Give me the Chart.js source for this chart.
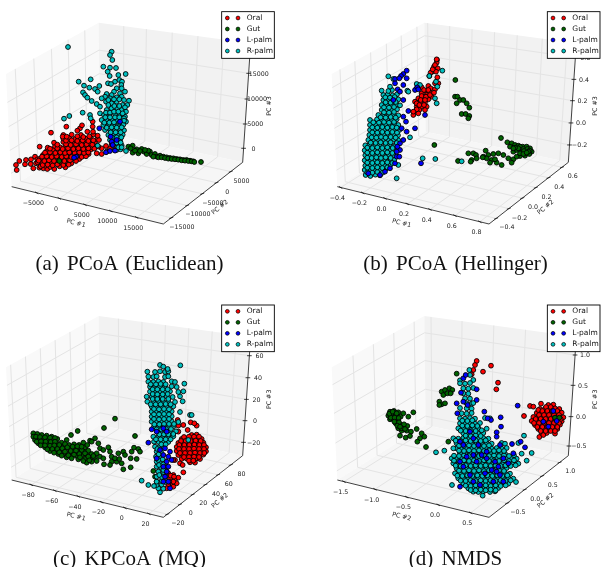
<!DOCTYPE html>
<html>
  <head>
    <meta charset='utf-8'>
    <title>Ordination scatter panels</title>
    <style>
      html, body { margin: 0; padding: 0; background: #fff; overflow: hidden; }
      #page { position: relative; width: 601px; height: 567px; }
      #page canvas { position: absolute; filter: blur(0.35px); }
      .caption {
        position: absolute;
        font-family: 'Liberation Serif', serif;
        font-size: 21px;
        color: #111;
        word-spacing: 3px;
        white-space: nowrap;
        transform: translate(-50%, -50%);
      }
    </style>
    <script src='https://cdn.jsdelivr.net/npm/chart.js@4/dist/chart.umd.min.js'></script>
  </head>
  <body>
    <div id='page'>
      <canvas id='panelA'></canvas>
      <canvas id='panelB'></canvas>
      <canvas id='panelC'></canvas>
      <canvas id='panelD'></canvas>
      <div class='caption' style='left:129.5px;top:263px'>(a) PCoA (Euclidean)</div>
      <div class='caption' style='left:455.5px;top:263px'>(b) PCoA (Hellinger)</div>
      <div class='caption' style='left:129.5px;top:558px'>(c) KPCoA (MQ)</div>
      <div class='caption' style='left:455.5px;top:558px'>(d) NMDS</div>
    </div>

    <script>
    var seriesNames = ['Oral', 'Gut', 'L-palm', 'R-palm'];
    var seriesColors = ['#ff0000', '#006400', '#0000ff', '#00bfbf'];

    var oralA = [50,510,48,495,58,483,78,480,75,493,93,478,92,492,105,470,119,440,112,478,108,490,118,503,130,505,142,507,100,505,
      122,499,136,497,151,501,163,507,179,499,196,502,113,487,127,489,141,486,154,490,171,487,186,489,201,486,214,490,
      120,476,134,474,149,478,162,475,179,477,193,473,206,478,223,475,238,477,129,465,146,462,160,466,176,463,189,466,206,462,219,465,236,463,250,467,266,462,
      141,452,158,449,172,454,187,450,201,453,214,449,231,453,245,450,258,454,272,449,143,443,165,439,180,442,196,438,212,441,228,438,242,442,258,437,275,441,290,438,
      162,428,190,426,205,430,220,426,238,429,252,425,268,429,285,426,190,416,208,414,225,417,240,413,258,416,272,413,292,417,
      190,405,215,404,243,405,262,395,280,403,297,420,153,398,199,380,240,385,246,376,278,365,278,380,232,392,188,410,293,407,279,395,
      290,460,305,462,320,455,330,445,318,438,335,432,345,450,305,445,295,440,
      128,495,143,494,158,496,172,493,190,495,206,494,116,482,133,483,147,481,162,483,177,481,193,483,210,481,228,483,
      126,470,140,469,155,471,170,469,185,471,199,469,214,471,230,469,245,471,258,469,135,458,150,457,166,459,181,457,195,459,208,457,224,459,238,457,252,459,265,457,
      150,446,172,445,188,447,204,445,220,447,235,445,250,447,265,445,283,446,172,434,198,433,212,435,228,433,245,435,260,433,277,434,198,422,215,421,232,423,248,421,265,423,280,421,200,410,232,409,250,411,268,409];
    var gutA = [178,483,385,440,398,437,410,448,398,458,415,460,425,447,432,455,440,462,450,455,455,465,465,462,470,470,480,467,490,470,500,472,510,474,520,475,530,477,540,478,550,480,560,480,570,482,580,484,603,486,445,452,405,452,420,453,435,450,392,445,460,470,475,472,485,472,495,474,505,476,515,477,525,478,535,479,545,481,555,482,565,483,575,484,583,486];
    var lpalmA = [298,385,228,470,222,473,332,410,335,425,318,457,330,453,345,452,338,435,360,365,350,420];
    var rpalmA = [204,141,335,155,330,165,337,180,310,200,330,203,348,204,323,215,377,222,329,228,355,225,236,245,272,238,345,245,358,240,366,245,324,250,252,257,364,255,333,252,298,258,285,267,249,277,268,263,293,275,350,265,365,265,255,285,262,293,275,303,342,275,320,282,335,285,360,280,375,275,315,290,330,295,350,292,365,290,387,302,305,295,290,312,300,320,318,305,335,310,350,305,368,315,382,315,320,330,335,325,352,325,365,330,378,335,248,338,270,345,208,348,192,356,300,340,312,345,328,345,345,342,360,345,375,350,272,355,305,360,320,360,335,358,350,360,365,360,378,365,
      310,375,325,377,340,374,355,376,370,374,315,390,330,388,345,391,360,389,372,391,325,405,340,403,355,406,368,404,330,420,345,418,360,421,340,435,355,433,365,436,350,450,362,448,378,453,293,437,
      318,338,330,338,342,335,355,335,368,340,316,352,330,352,345,352,358,352,372,355,313,368,328,368,342,367,358,368,372,362,320,383,335,382,350,383,365,382,332,397,347,397,362,397,336,412,350,412,364,412,350,428,362,428,355,442,365,442,325,300,342,298,358,298,372,300,325,315,343,318,358,318,375,322];

    var oralB = [411,180,410,188,402,200,413,205,397,215,408,215,392,218,412,232,388,228,415,250,405,250,350,265,365,262,385,258,392,265,378,272,390,278,365,280,380,285,405,268,395,290,355,295,370,295,385,298,345,305,360,308,375,308,350,320,365,320,380,320,345,335,358,330,340,345,375,330,355,340,
      372,270,385,270,365,288,378,290,390,285,350,310,362,300,375,300,358,315,372,315,350,328,340,335,402,278,398,208,405,195,410,178];
    var gutB = [466,240,465,290,472,290,480,300,470,310,490,300,500,310,508,323,485,342,497,342,508,348,505,355,403,435,474,483,505,460,520,460,557,452,528,465,530,475,515,480,512,485,550,470,565,465,580,462,595,460,610,465,625,475,640,478,635,488,605,495,590,488,575,480,560,475,548,472,570,488,585,478,603,414,622,427,635,430,645,435,655,437,668,440,680,440,690,445,695,455,688,462,675,467,660,468,650,470,640,455,630,440,650,450,665,452,678,452,660,440,
      670,447,682,447,665,458,677,459,689,452,655,445,645,443,685,455,672,453,660,460,640,445,670,462,680,458];
    var lpalmB = [320,212,310,222,303,228,285,237,298,235,320,235,285,250,310,255,293,268,300,275,345,270,352,262,310,300,325,333,310,350,318,365,345,385,320,395,310,420,300,450,290,470,285,490,270,505,255,515,240,525,205,520,363,490,375,345,355,268,280,300,305,385,300,430,292,440,298,470,290,455];
    var rpalmB = [197,525,211,528,226,524,240,526,194,510,209,513,224,509,241,512,256,508,196,497,210,494,225,498,240,494,254,497,271,495,194,481,209,484,226,480,239,483,256,479,271,482,283,479,196,466,208,463,223,467,236,463,251,466,265,463,280,466,194,451,211,449,224,452,241,449,255,451,271,449,285,452,196,436,209,433,226,437,239,434,256,436,270,433,286,436,205,420,221,418,235,421,251,418,265,421,281,418,295,421,
      208,405,223,403,236,406,251,403,265,406,280,403,294,406,210,390,225,388,241,391,255,388,271,391,285,388,298,390,210,375,226,373,240,376,256,373,270,376,285,373,295,375,210,360,231,358,245,361,261,358,275,361,290,358,235,345,251,343,265,346,281,343,295,346,245,330,261,328,275,331,291,328,245,315,260,313,276,316,290,313,300,316,250,300,266,298,280,301,295,298,250,285,263,283,278,286,291,283,245,272,276,270,265,273,
      265,229,350,252,322,272,325,275,360,255,427,212,388,228,408,245,412,260,405,295,410,310,330,412,290,535,295,495,368,475,406,477,485,484,280,237,270,260,
      202,517,217,518,232,516,248,518,202,503,217,504,232,502,247,504,262,502,202,488,217,489,232,487,247,489,262,487,277,489,202,473,215,474,229,472,243,474,257,472,272,474,202,458,217,459,232,457,247,459,262,457,277,459,
      202,443,217,444,232,442,247,444,262,442,278,444,212,428,227,429,242,427,257,429,272,427,290,429,215,412,229,413,243,411,257,413,272,411,287,413,217,397,232,398,247,396,262,398,277,396,291,398,
      217,382,232,383,247,381,262,383,277,381,290,383,220,367,237,368,252,366,267,368,282,366,242,352,257,353,272,351,287,353,252,337,267,338,282,336,252,322,267,323,282,321,257,307,272,308,287,306,256,292,270,293,284,291];

    var oralC = [575,450,590,449,545,462,560,461,575,463,590,460,605,462,535,474,550,473,565,475,580,472,595,474,610,473,530,486,545,485,560,487,575,484,590,486,605,485,618,487,530,498,545,497,560,499,575,496,590,498,605,497,618,499,535,510,550,509,565,511,580,508,595,510,610,509,545,522,560,521,575,523,590,520,600,522,570,532,585,533,525,525,540,535,548,540,520,525,
      505,565,520,570,510,580,525,585,535,578,550,562,515,595,530,595,505,600,500,610,520,605,533,405,572,412,590,422,535,422,550,420,535,440,563,435,583,415,
      552,456,567,455,582,455,597,455,543,468,557,468,572,468,587,467,602,468,538,480,553,480,568,480,583,479,598,480,612,480,537,492,552,492,567,492,582,491,597,492,612,492,540,504,555,504,570,504,585,503,600,504,613,504,552,516,567,516,582,515,597,516,567,527,580,527,512,572,520,590,508,590,522,575];
    var gutC = [100,445,100,455,112,447,125,450,140,452,155,455,105,465,118,462,130,462,145,465,160,465,172,462,115,475,128,475,142,477,155,477,170,475,185,473,200,465,213,450,233,438,135,487,148,488,163,487,178,485,192,483,207,480,222,478,237,480,150,498,165,497,180,497,195,493,210,492,225,490,240,490,255,487,175,507,190,507,205,505,220,503,235,502,250,500,265,497,200,517,215,515,230,513,245,512,260,510,275,507,290,505,235,523,255,522,270,520,285,518,300,515,260,533,275,530,290,528,250,473,270,467,285,460,275,470,295,475,300,490,325,487,310,495,330,500,345,401,312,429,405,453,335,515,355,505,370,500,375,510,395,500,402,488,415,492,420,500,392,520,410,522,335,530,350,530,365,535,312,538,330,540,370,553,392,547,310,520,345,520,358,522,465,575,470,590,460,558,
      108,455,120,456,135,457,150,458,165,459,110,470,123,469,137,470,152,471,165,470,122,481,135,481,150,482,163,481,178,480,195,477,142,493,157,492,172,492,187,490,202,487,218,485,232,484,162,503,178,502,195,500,212,498,228,497,245,495,185,512,205,511,222,509,238,507,255,505,215,520,240,517,265,515,280,513,250,528,268,526,245,485,262,480];
    var lpalmC = [445,473,455,433,470,440,490,430,500,440,480,495,495,490,510,500,505,515,490,510,470,520,515,525,500,530,490,545,505,545,500,560,495,575,490,590,505,590,510,610];
    var rpalmC = [480,622,475,610,490,611,470,600,485,599,470,590,485,588,497,591,470,575,485,576,497,574,475,560,490,561,500,559,470,545,482,546,497,544,470,530,482,531,495,529,468,515,480,516,470,500,483,501,465,485,478,486,490,484,462,470,476,471,490,469,505,471,460,455,475,456,490,454,505,456,520,454,472,440,485,441,498,439,512,441,528,439,462,425,477,426,492,424,507,426,520,424,455,410,470,411,485,409,500,411,515,409,535,411,455,395,470,396,485,394,500,396,515,394,455,380,470,381,485,379,500,381,515,379,540,381,455,365,470,366,485,364,500,366,520,364,442,350,460,351,475,349,490,351,505,349,525,351,548,349,440,335,455,336,470,334,485,336,500,334,518,336,540,334,450,320,465,321,480,319,495,321,510,319,535,321,550,319,450,305,465,306,480,304,495,306,515,304,530,306,553,296,445,290,460,291,475,289,490,291,515,289,525,291,445,275,460,276,470,274,495,276,505,274,442,260,465,261,480,259,495,261,505,259,480,240,490,245,503,252,541,241,425,587,445,600,462,603,570,390,575,390,565,465,
      478,570,490,555,477,540,490,538,475,525,488,523,476,508,472,492,484,478,497,478,468,463,482,463,497,463,512,463,478,448,492,448,505,448,520,447,470,433,484,433,498,432,513,432,463,418,478,418,492,417,507,417,522,417,462,402,477,403,492,402,507,402,462,388,477,388,492,387,507,388,462,372,477,373,492,372,507,373,452,358,467,358,482,358,497,357,512,358,458,342,472,342,488,342,505,342,458,327,472,328,488,328,503,327,458,313,472,313,488,313,503,313,452,298,468,298,482,297,497,298];

    var oralD = [745,360,760,359,720,372,735,371,750,373,765,370,778,372,710,384,725,383,740,385,755,382,770,384,785,383,700,396,715,395,730,397,745,394,760,396,775,395,790,397,695,408,710,407,725,409,740,406,755,408,770,407,785,409,705,420,720,419,735,421,750,418,765,420,780,419,715,432,730,431,745,433,760,430,772,432,725,445,740,444,765,446,718,456,730,450,530,228,525,240,520,255,515,268,573,242,549,260,594,293,589,313,690,363,723,356,672,393,700,365,715,375,
      738,366,752,366,727,378,742,378,757,378,772,378,717,390,732,390,747,390,762,390,777,390,707,402,722,402,737,402,752,402,767,402,782,402,702,414,717,414,732,414,747,414,762,414,777,414,712,426,727,426,742,426,757,426,772,426,722,438,737,438,752,438,765,438];
    var gutD = [270,380,282,378,295,382,265,392,278,392,290,392,302,395,270,403,282,405,295,405,310,385,325,395,340,382,287,415,300,418,295,430,310,425,322,423,305,437,320,437,333,440,350,432,300,452,317,458,330,453,365,445,373,455,360,460,352,470,378,486,445,470,470,266,425,320,435,315,448,310,457,315,430,330,442,325,452,325,418,350,425,358,435,355,418,360,275,398,285,385,
      275,386,287,386,272,398,284,398,296,399,268,386,278,380,290,385,283,410,297,412,292,422,305,430,315,432,312,418,300,425,765,398,778,398];
    var lpalmD = [653,362,636,477,675,487,662,470,602,397,590,442,590,455,603,425,573,405,553,380,563,400,530,313,530,345,490,280,497,270,483,323,490,350,470,355,472,385,625,535,640,505,610,520,590,560,560,500,520,510,490,545,480,605,520,590,580,590,600,570,545,510,503,360,510,440,480,470,
      500,515,535,480,560,520,585,530,510,570,555,565,595,545,530,530,490,480,520,460,575,555,540,600,610,590,480,530,600,480,730,410,760,378,770,408,745,425];
    var rpalmD = [508,255,510,270,520,285,480,286,480,295,495,296,510,294,490,310,505,311,520,309,490,325,505,326,495,340,510,341,500,355,515,356,520,354,500,370,515,371,480,369,485,385,500,386,515,384,480,400,495,401,510,399,525,401,570,400,555,399,480,415,495,416,510,414,525,416,540,414,475,430,490,431,505,429,520,431,535,429,560,431,490,445,505,446,520,444,535,446,550,444,460,460,475,461,490,459,505,461,520,459,535,461,550,459,565,461,672,452,470,475,485,476,500,474,515,476,530,474,545,476,560,474,575,476,605,474,615,476,655,474,470,490,485,491,500,489,515,491,530,489,545,491,560,489,575,491,590,489,605,491,620,489,480,505,495,506,510,504,525,506,540,504,555,506,570,504,585,506,600,504,615,506,695,504,665,506,
      455,520,470,521,485,519,500,521,515,519,530,521,545,519,560,521,575,519,590,521,605,519,620,521,635,519,650,521,680,527,460,535,475,536,490,534,505,536,520,534,535,536,550,534,565,536,580,534,595,536,610,534,625,536,640,534,655,536,470,550,485,551,500,549,515,551,530,549,545,551,560,549,575,551,590,549,605,551,620,549,465,565,480,566,495,564,510,566,525,564,540,566,555,564,570,566,585,564,600,566,615,564,630,566,475,580,490,581,505,579,520,581,535,579,550,581,565,579,580,581,595,579,610,581,625,579,640,581,490,595,505,596,520,594,535,596,550,594,565,596,580,594,595,596,610,594,625,596,648,591,456,600,505,610,520,611,535,609,550,611,565,609,580,611,595,609,520,620,535,621,550,619,570,621,585,619,548,632,408,502,433,497,460,490,
      462,527,477,528,492,526,507,528,522,526,537,528,552,526,567,528,582,526,597,528,612,526,627,528,642,526,467,542,482,543,497,541,512,543,527,541,542,543,557,541,572,543,587,541,602,543,617,541,632,543,647,541,
      477,557,492,558,507,556,522,558,537,556,552,558,567,556,582,558,597,556,612,558,472,572,487,573,502,571,517,573,532,571,547,573,562,571,577,573,592,571,607,573,622,571,482,587,497,588,512,586,527,588,542,586,557,588,572,586,587,588,602,586,617,588,632,586,
      497,602,512,603,527,601,542,603,557,601,572,603,587,601,602,603,617,601,512,615,527,616,542,614,557,616,572,614,587,616,462,512,477,513,492,511,507,513,522,511,537,513,552,511,567,513,582,511,597,513,612,511,627,513,642,511,
      477,497,492,498,507,496,522,498,537,496,552,498,567,496,582,498,597,496,612,498,477,482,492,483,507,481,522,483,537,481,552,483,567,481,467,467,482,468,497,466,512,468,527,466,542,468,557,466,497,452,512,453,527,451,542,453,482,437,497,438,512,436,527,438,545,436,487,422,502,423,517,421,532,423,487,407,502,408,517,406];

    var ticksX = [
      ['\u22125000', '0', '5000', '10000', '15000'],
      ['\u22120.4', '\u22120.2', '0.0', '0.2', '0.4', '0.6', '0.8'],
      ['\u221280', '\u221260', '\u221240', '\u221220', '0', '20'],
      ['\u22121.5', '\u22121.0', '\u22120.5', '0.0', '0.5']
    ];
    var ticksY = [
      ['\u221215000', '\u221210000', '\u22125000', '0', '5000'],
      ['\u22120.4', '\u22120.2', '0.0', '0.2', '0.4', '0.6'],
      ['\u221220', '0', '20', '40', '60', '80'],
      ['\u22120.5', '0.0', '0.5', '1.0']
    ];
    var ticksZ = [
      ['0', '5000', '10000', '15000'],
      ['\u22120.2', '0.0', '0.2', '0.4', '0.6'],
      ['\u221220', '0', '20', '40', '60'],
      ['\u22120.5', '0.0', '0.5', '1.0']
    ];

    // where the ticks sit along each box edge, 0 to 1
    var fracX = [
      [.165, .314, .484, .653, .824],
      [.022, .167, .314, .462, .611, .776, .94],
      [.13, .285, .439, .593, .747, .905],
      [.044, .248, .457, .666, .879]
    ];
    var fracY = [
      [.1, .3, .49, .67, .85],
      [.09, .25, .42, .59, .75, .92],
      [.05, .21, .37, .53, .69, .85],
      [.23, .45, .67, .89]
    ];
    var fracZ = [
      [.118, .322, .532, .748],
      [.146, .331, .518, .697, .88],
      [.112, .294, .473, .655, .84],
      [.081, .328, .591, .846]
    ];
    var xAxisNames = ['PC #1', 'PC #1', 'PC #1', 'PC #2'];

    // box corners of panel a, the others are the same box moved
    var box = {
      A: [18, 222], B: [296, 68], C: [752, 130],
      D: [35, 560], E: [490, 672], F: [728, 487], G: [300, 395]
    };
    var shifts = [[0, 0], [77, 0], [0, 25], [77, 25]];
    // blue is drawn last so it shows through the teal as in the picture
    var drawOrder = [4, 3, 1, 2];

    function pairs(flat) {
      var out = [];
      for (var i = 0; i < flat.length; i += 2) {
        out.push({ x: flat[i], y: flat[i + 1] });
      }
      return out;
    }

    function mix(p, q, t) {
      return [p[0] + (q[0] - p[0]) * t, p[1] + (q[1] - p[1]) * t];
    }

    function framePlugin(n) {
      var dx = shifts[n][0], dy = shifts[n][1];

      function helpers(chart) {
        var ctx = chart.ctx, sx = chart.scales.x, sy = chart.scales.y;
        var px = function (p) {
          return [sx.getPixelForValue(p[0] + dx), sy.getPixelForValue(p[1] + dy)];
        };
        return {
          ctx: ctx, px: px,
          pane: function (pts, fill) {
            ctx.beginPath();
            pts.forEach(function (p, i) {
              var q = px(p);
              if (i) ctx.lineTo(q[0], q[1]); else ctx.moveTo(q[0], q[1]);
            });
            ctx.closePath();
            ctx.fillStyle = fill;
            ctx.fill();
          },
          line: function (p, q, color, w) {
            var a = px(p), b = px(q);
            ctx.beginPath();
            ctx.moveTo(a[0], a[1]);
            ctx.lineTo(b[0], b[1]);
            ctx.strokeStyle = color;
            ctx.lineWidth = w;
            ctx.stroke();
          },
          text: function (str, p, size, rot) {
            var q = px(p);
            ctx.save();
            ctx.translate(q[0], q[1]);
            ctx.rotate((rot || 0) * Math.PI / 180);
            ctx.font = size + 'px "DejaVu Sans"';
            ctx.textAlign = 'center';
            ctx.textBaseline = 'middle';
            ctx.fillStyle = '#222';
            ctx.fillText(str, 0, 0);
            ctx.restore();
          }
        };
      }

      return {
        id: 'frame' + n,
        beforeDatasetsDraw: function (chart) {
          var h = helpers(chart), b = box, grid = '#e4e4e4';
          h.pane([b.D, b.A, b.B, b.G], '#f9f9f9');
          h.pane([b.G, b.B, b.C, b.F], '#f2f2f2');
          h.pane([b.D, b.G, b.F, b.E], '#f6f6f6');

          fracX[n].forEach(function (t) {
            h.line(mix(b.D, b.E, t), mix(b.G, b.F, t), grid, 1);
            h.line(mix(b.G, b.F, t), mix(b.B, b.C, t), grid, 1);
          });
          fracY[n].forEach(function (t) {
            h.line(mix(b.E, b.F, t), mix(b.D, b.G, t), grid, 1);
            h.line(mix(b.D, b.G, t), mix(b.A, b.B, t), grid, 1);
          });
          fracZ[n].forEach(function (t) {
            h.line(mix(b.D, b.A, t), mix(b.G, b.B, t), grid, 1);
            h.line(mix(b.G, b.B, t), mix(b.F, b.C, t), grid, 1);
          });

          h.line(b.D, b.E, '#111', 0.8);
          h.line(b.E, b.F, '#111', 0.8);
          h.line(b.F, b.C, '#111', 0.8);

          // ticks and their labels
          fracX[n].forEach(function (t, i) {
            var p = mix(b.D, b.E, t);
            h.line([p[0] - 5, p[1] - 3], [p[0] + 5, p[1] + 3], '#111', 0.8);
            h.text(ticksX[n][i], [p[0] - 10, p[1] + 32], 6.3);
          });
          fracY[n].forEach(function (t, i) {
            var p = mix(b.E, b.F, t);
            h.line([p[0] - 6, p[1] + 2], [p[0] + 6, p[1] - 2], '#111', 0.8);
            h.text(ticksY[n][i], [p[0] + 32, p[1] + 28], 6.3);
          });
          fracZ[n].forEach(function (t, i) {
            var p = mix(b.F, b.C, t);
            h.line([p[0] - 7, p[1]], [p[0] + 7, p[1]], '#111', 0.8);
            h.text(ticksZ[n][i], [p[0] + 30, p[1] + 2], 6.3);
          });

          h.text(xAxisNames[n], [228, 670], 6.3, 14);
          h.text('PC #2', [660, 622], 6.3, -40);
          h.text('PC #3', [808, 318], 6.3, -90);
        },
        afterDatasetsDraw: function (chart) {
          var h = helpers(chart), ctx = h.ctx;
          var lt = h.px([665, 35]), rb = h.px([823, 175]);
          ctx.save();
          ctx.fillStyle = '#fff';
          ctx.fillRect(lt[0], lt[1], rb[0] - lt[0], rb[1] - lt[1]);
          ctx.strokeStyle = '#000';
          ctx.lineWidth = 0.9;
          ctx.strokeRect(lt[0], lt[1], rb[0] - lt[0], rb[1] - lt[1]);
          seriesNames.forEach(function (name, i) {
            var y = 54 + i * 33;
            [682, 714].forEach(function (x) {
              var q = h.px([x, y]);
              ctx.beginPath();
              ctx.arc(q[0], q[1], 1.9, 0, Math.PI * 2);
              ctx.fillStyle = seriesColors[i];
              ctx.fill();
              ctx.strokeStyle = '#000';
              ctx.lineWidth = 0.7;
              ctx.stroke();
            });
            var t = h.px([740, y]);
            ctx.font = '7.5px "DejaVu Sans"';
            ctx.textAlign = 'left';
            ctx.textBaseline = 'middle';
            ctx.fillStyle = '#111';
            ctx.fillText(name, t[0], t[1]);
          });
          ctx.restore();
        }
      };
    }

    function makePanel(id, n, left, top, w, h, series) {
      var canvas = document.getElementById(id);
      canvas.width = w;
      canvas.height = h;
      canvas.style.left = left + 'px';
      canvas.style.top = top + 'px';
      canvas.style.width = w + 'px';
      canvas.style.height = h + 'px';

      return new Chart(canvas.getContext('2d'), {
        type: 'scatter',
        data: {
          datasets: series.map(function (flat, i) {
            return {
              label: seriesNames[i],
              data: pairs(flat),
              backgroundColor: seriesColors[i],
              borderColor: '#000',
              borderWidth: 0.9,
              pointRadius: 2.4,
              clip: false,
              order: drawOrder[i]
            };
          })
        },
        options: {
          responsive: false,
          animation: false,
          layout: { padding: 0, autoPadding: false },
          plugins: { legend: { display: false }, tooltip: { enabled: false } },
          scales: {
            x: { type: 'linear', display: false, min: 0, max: w * 3 },
            y: { type: 'linear', display: false, min: 0, max: h * 3, reverse: true }
          }
        },
        plugins: [framePlugin(n)]
      });
    }

    makePanel('panelA', 0, 0, 0, 300, 282, [oralA, gutA, lpalmA, rpalmA]);
    makePanel('panelB', 1, 300, 0, 301, 282, [oralB, gutB, lpalmB, rpalmB]);
    makePanel('panelC', 2, 0, 285, 300, 282, [oralC, gutC, lpalmC, rpalmC]);
    makePanel('panelD', 3, 300, 285, 301, 282, [oralD, gutD, lpalmD, rpalmD]);
    </script>
  </body>
</html>
